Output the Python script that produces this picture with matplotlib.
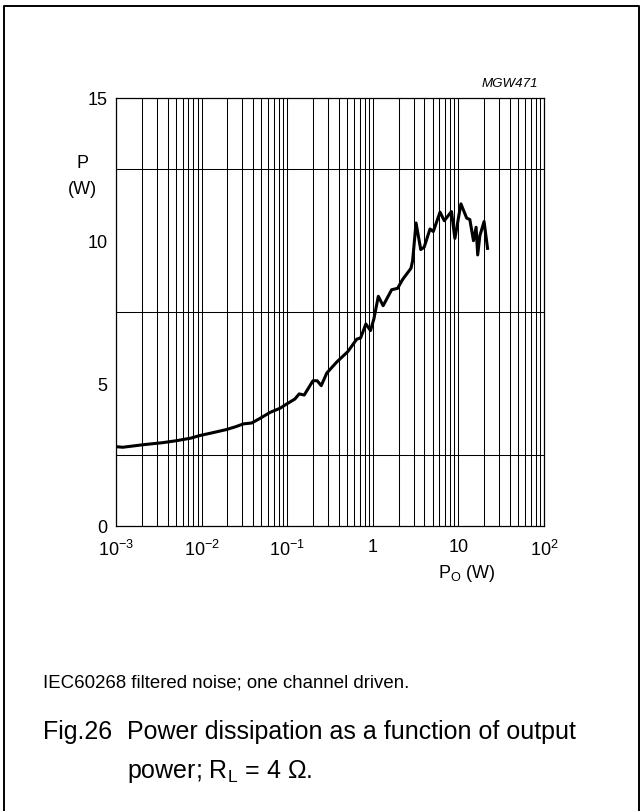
#!/usr/bin/env python3
"""
Power dissipation vs output power (Fig.26), datasheet style.
"""

import matplotlib

matplotlib.use("Agg")
import matplotlib.pyplot as plt
from matplotlib.lines import Line2D
from matplotlib.ticker import FixedLocator, NullFormatter

plt.rcParams["font.family"] = ["Liberation Sans", "DejaVu Sans"]
plt.rcParams["mathtext.fontset"] = "custom"
plt.rcParams["mathtext.rm"] = "Liberation Sans"
plt.rcParams["mathtext.it"] = "Liberation Sans:italic"

# output power (W) and dissipated power (W)
po = [0.001, 0.0012, 0.0021, 0.0035, 0.0051, 0.0075, 0.0095, 0.0135, 0.0195, 0.025,
      0.031, 0.0385, 0.048, 0.063, 0.083, 0.099, 0.123, 0.138, 0.158, 0.20,
      0.224, 0.25, 0.29, 0.38, 0.51, 0.65, 0.72, 0.83, 0.94, 1.03,
      1.16, 1.32, 1.66, 1.95, 2.19, 2.28, 2.79, 2.92, 3.20, 3.63,
      3.98, 4.66, 5.09, 6.10, 6.84, 8.3, 9.1, 10.7, 12.5, 13.6,
      15.0, 16.1, 16.8, 17.8, 19.95, 21.9]
pdiss = [2.78, 2.76, 2.85, 2.92, 2.99, 3.08, 3.17, 3.27, 3.38, 3.48,
         3.58, 3.61, 3.77, 3.98, 4.13, 4.28, 4.45, 4.63, 4.59, 5.09,
         5.09, 4.92, 5.36, 5.75, 6.11, 6.55, 6.59, 7.08, 6.85, 7.26,
         8.05, 7.72, 8.28, 8.33, 8.60, 8.68, 9.03, 9.30, 10.62, 9.69,
         9.77, 10.41, 10.32, 11.0, 10.70, 11.02, 10.08, 11.29, 10.79, 10.74,
         10.0, 10.47, 9.50, 10.17, 10.67, 9.73]

x_ticks = [1e-3, 1e-2, 1e-1, 1, 10, 100]
x_ticklabels = [r"$10^{-3}$", r"$10^{-2}$", r"$10^{-1}$", "1", "10", r"$10^{2}$"]
y_ticks = [0, 5, 10, 15]
y_grid = [2.5, 5, 7.5, 10, 12.5]

W, H = 641, 812


def fx(x):
    return x / W


def fy(y):
    return 1 - y / H


fig = plt.figure(figsize=(W / 100, H / 100), dpi=100)

# outer frame (open at the bottom)
frame = Line2D([fx(4), fx(4), fx(639), fx(639)], [0, fy(7), fy(7), 0],
               transform=fig.transFigure, color="black", lw=1.4)
fig.add_artist(frame)

ax = fig.add_axes([fx(116), fy(527), 428 / W, 428 / H])
ax.set_xscale("log")
ax.set_xlim(1e-3, 100)
ax.set_ylim(0, 15)

# grid: every decade step vertically, 2.5 W horizontally
minor_x = [m * 10.0 ** e for e in range(-3, 2) for m in range(2, 10)]
ax.xaxis.set_major_locator(FixedLocator(x_ticks))
ax.xaxis.set_minor_locator(FixedLocator(minor_x))
ax.xaxis.set_minor_formatter(NullFormatter())
ax.set_xticks(x_ticks)
ax.set_xticklabels(x_ticklabels)
ax.yaxis.set_minor_locator(FixedLocator(y_grid))
ax.set_yticks(y_ticks)
ax.grid(True, which="both", axis="x", color="black", lw=0.75)
ax.grid(True, which="minor", axis="y", color="black", lw=0.75)
ax.tick_params(which="both", length=0, labelsize=13)
ax.tick_params(axis="x", pad=9)
ax.tick_params(axis="y", pad=6)

for s in ax.spines.values():
    s.set_linewidth(0.9)

ax.plot(po, pdiss, color="black", lw=2.2, solid_joinstyle="round", zorder=3)

fig.text(fx(538), fy(87), "MGW471", ha="right", va="baseline", fontsize=9.6, style="italic")
fig.text(fx(82), fy(163), "P", ha="center", va="center", fontsize=13)
fig.text(fx(82), fy(190), "(W)", ha="center", va="center", fontsize=13)
fig.text(fx(438), fy(578), r"P$_\mathrm{O}$ (W)", ha="left", va="baseline", fontsize=13)

fig.text(fx(43), fy(688), "IEC60268 filtered noise; one channel driven.", ha="left",
         va="baseline", fontsize=13.4)
fig.text(fx(43), fy(739), "Fig.26", ha="left", va="baseline", fontsize=18)
fig.text(fx(127), fy(739), "Power dissipation as a function of output", ha="left",
         va="baseline", fontsize=18)
fig.text(fx(127), fy(778), r"power; R$_\mathrm{L}$ = 4 Ω.", ha="left", va="baseline",
         fontsize=18)

fig.savefig("out.png", dpi=100)
